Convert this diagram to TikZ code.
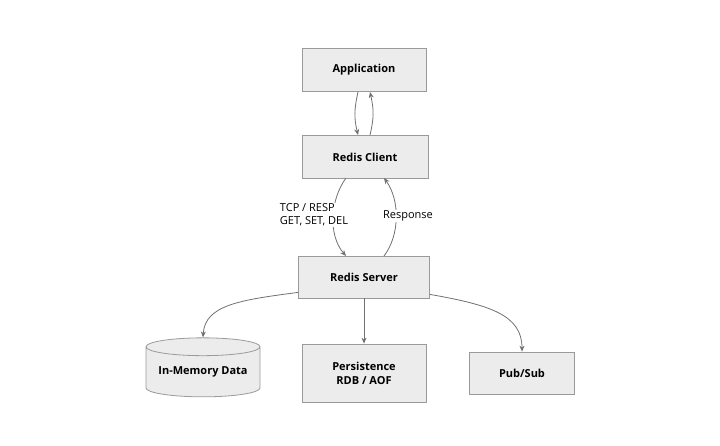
\documentclass[tikz,border=0pt]{standalone}
\usepackage{fontspec}
\setmainfont{Open Sans}
\usetikzlibrary{shapes.geometric,arrows.meta}
\definecolor{bx}{HTML}{ECECEC}
\definecolor{bd}{HTML}{9A9A9A}
\definecolor{ln}{HTML}{707070}
\begin{document}
\begin{tikzpicture}[x=1pt,y=-1pt,
  box/.style={draw=bd,fill=bx,line width=0.8pt,align=center,font=\fontsize{11}{14}\selectfont\bfseries,inner sep=0pt},
  ar/.style={draw=ln,line width=0.8pt,-{Stealth[length=6pt,width=5pt]}},
  lb/.style={fill=white,font=\fontsize{11}{13}\selectfont,align=left,inner sep=1pt}]
\useasboundingbox (0,0) rectangle (720,446);
\node[box,minimum width=124pt,minimum height=43pt] (app) at (364,70) {Application};
\node[box,minimum width=126pt,minimum height=43pt] (cli) at (365,157) {Redis Client};
\node[box,minimum width=131pt,minimum height=42pt] (srv) at (364,277) {Redis Server};
\node[box,cylinder,shape border rotate=90,aspect=0.2,minimum width=114pt,minimum height=59pt] (mem) at (203,372) {\raisebox{-6pt}{In-Memory Data}};
\node[box,minimum width=124pt,minimum height=58pt] (per) at (364,373) {Persistence\\RDB / AOF};
\node[box,minimum width=105pt,minimum height=42pt] (pub) at (522,373) {Pub/Sub};
\draw[ar] (358,92) .. controls (354,110) and (354,118) .. (358,135);
\draw[ar] (370,135) .. controls (374,118) and (374,110) .. (370,92);
\draw[ar] (346,178) .. controls (330,200) and (328,235) .. (346,256);
\draw[ar] (384,256) .. controls (400,235) and (400,200) .. (384,178);
\node[lb] at (314,215) {TCP / RESP\\GET, SET, DEL};
\node[lb] at (408,216) {Response};
\draw[ar] (srv.south west) ++(0,-6) .. controls (240,300) and (205,305) .. (mem.north);
\draw[ar] (srv) -- (per);
\draw[ar] (srv.south east) ++(0,-4) .. controls (490,305) and (522,315) .. (pub.north);
\end{tikzpicture}
\end{document}
